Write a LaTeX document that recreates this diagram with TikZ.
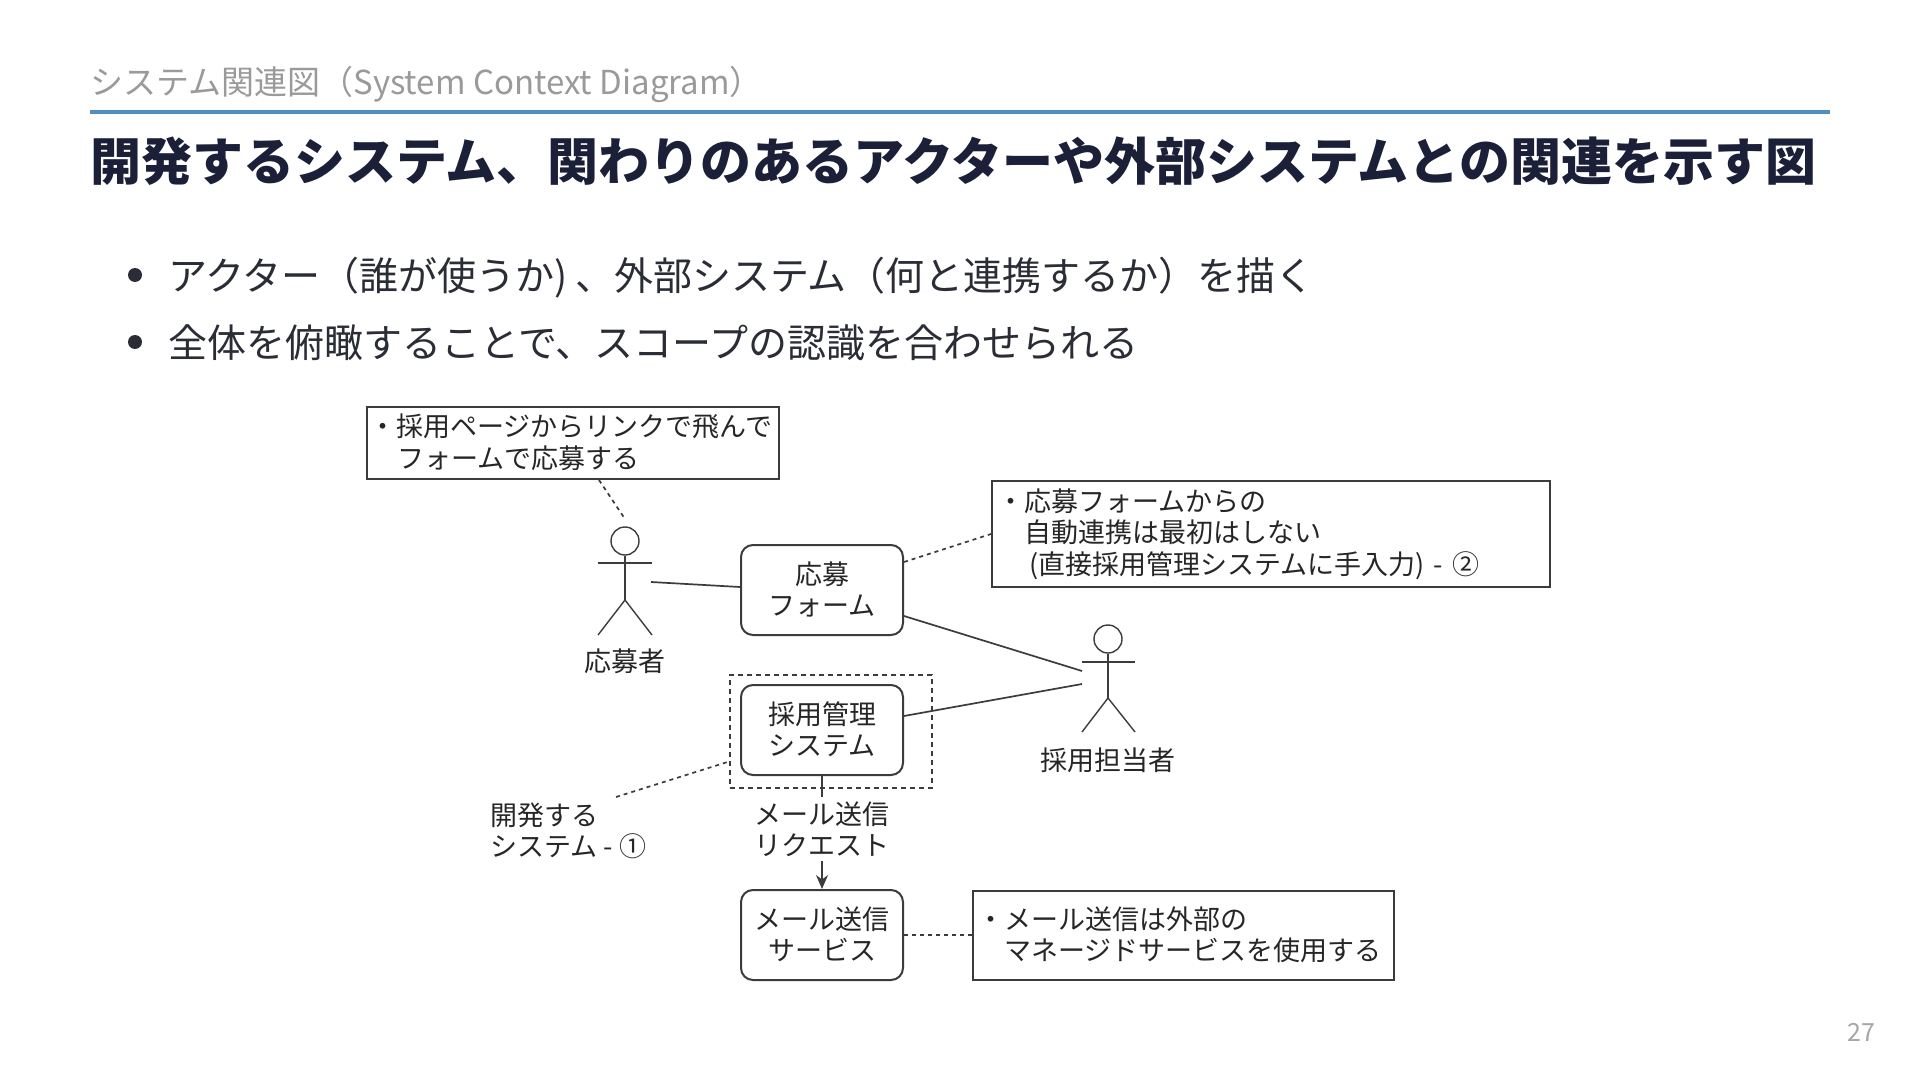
\documentclass[tikz,border=0pt]{standalone}
\usepackage{fontspec}
\setmainfont{Noto Sans CJK JP}
\usetikzlibrary{arrows.meta}
\newcommand{\fsz}[2]{\fontsize{#1}{#2}\selectfont}
\newcommand{\nudgeup}{\\[-14pt]\mbox{}}
\definecolor{subgray}{HTML}{9A9A9A}
\definecolor{rulecol}{HTML}{4F8FC6}
\definecolor{titlecol}{HTML}{1B2038}
\definecolor{bodycol}{HTML}{2A2D36}
\definecolor{diag}{HTML}{3C3C3C}
\definecolor{numgray}{HTML}{A6A6A6}
\tikzset{
  slidetext/.style={anchor=west,inner sep=0pt},
  subtitle/.style={slidetext,text=subgray,font=\fsz{16.5}{20}},
  headline/.style={slidetext,text=titlecol,font=\fsz{25.5}{30}\bfseries},
  bodyline/.style={slidetext,text=bodycol,font=\fsz{19.5}{24}},
  bulletdot/.style={circle,fill=bodycol,minimum size=7pt,inner sep=0pt},
  sysbox/.style={draw=diag,line width=1pt,rounded corners=6pt,minimum width=81pt,minimum height=45pt,inner sep=0pt,align=center,font=\fsz{13.5}{15.6},text=black!85},
  notebox/.style={draw=diag,line width=1pt,inner sep=0pt,font=\fsz{13.5}{15.8},text=black!85},
  plainlabel/.style={inner sep=0pt,align=center,font=\fsz{13.5}{15.8},text=black!85},
  assoc/.style={draw=diag,line width=0.85pt},
  notelink/.style={draw=diag,line width=0.85pt,dash pattern=on 2pt off 2pt},
  actorhead/.style={circle,draw=diag,line width=0.7pt,minimum size=14pt,inner sep=0pt},
  actorline/.style={draw=diag,line width=0.7pt},
}
\begin{document}
\begin{tikzpicture}[x=0.5pt,y=-0.5pt]
\useasboundingbox (0,0) rectangle (1920,1080);
\fill[white] (0,0) rectangle (1920,1080);

% header
\node[subtitle] (subt) at (90,85) {システム関連図（System Context Diagram）};
\coordinate (ruleL) at (90,112);
\coordinate (ruleR) at (1830,112);
\draw[rulecol,line width=1.6pt] (ruleL) -- (ruleR);
\node[headline] (headl) at (90,161) {開発するシステム、関わりのあるアクターや外部システムとの関連を示す図};
\node[bulletdot] (b1) at (135,275) {};
\node[bodyline] (l1) at (168,278) {アクター（誰が使うか)\hspace{3.5pt}、外部システム（何と連携するか）を描く};
\node[bulletdot] (b2) at (135,342) {};
\node[bodyline] (l2) at (168,343) {全体を俯瞰することで、スコープの認識を合わせられる};
\node[anchor=east,inner sep=0pt,text=numgray,font=\fsz{12.5}{15}] (pg) at (1876,1032) {27};

% system boxes
\node[sysbox] (form) at (822,590) {応募\\フォーム\nudgeup};
\node[sysbox] (sys) at (822,730) {採用管理\\システム\nudgeup};
\node[sysbox] (mail) at (822,935) {メール送信\\サービス\nudgeup};
\node[draw=diag,line width=0.85pt,dash pattern=on 2.5pt off 2pt,minimum width=101pt,minimum height=56.5pt,inner sep=0pt] (scope) at (831,731.5) {};

% notes
\node[notebox,minimum width=206pt,minimum height=36pt,text width=204pt] (note1) at (573,443)
  {・採用ページからリンクで飛んで\\\hspace*{1.05em}フォームで応募する\nudgeup};
\node[notebox,minimum width=279pt,minimum height=53pt,text width=274pt] (note2) at (1271,534)
  {・応募フォームからの\\\hspace*{1em}自動連携は最初はしない\\\hspace*{1.2em}(直接採用管理システムに手入力) - ②};
\node[notebox,minimum width=210.5pt,minimum height=44.5pt,text width=206pt] (note3) at (1183.5,935.5)
  {・メール送信は外部の\\\hspace*{1em}マネージドサービスを使用する\nudgeup};

% free labels
\node[plainlabel,anchor=north west,align=left] (devlabel) at (490,802) {開発する\\システム - ①};

% actor 1
\node[actorhead] (a1head) at (625,541) {};
\coordinate (a1armL) at (598,563);
\coordinate (a1armR) at (652,563);
\coordinate (a1hip) at (625,600);
\coordinate (a1legL) at (598,635);
\coordinate (a1legR) at (652,635);
\draw[actorline] (a1head.south) -- (a1hip);
\draw[actorline] (a1armL) -- (a1armR);
\draw[actorline] (a1legL) -- (a1hip) -- (a1legR);
\node[plainlabel] (a1label) at (625,661) {応募者};

% actor 2
\node[actorhead] (a2head) at (1108,639) {};
\coordinate (a2armL) at (1082,662);
\coordinate (a2armR) at (1135,662);
\coordinate (a2hip) at (1108,698);
\coordinate (a2legL) at (1082,732);
\coordinate (a2legR) at (1135,732);
\draw[actorline] (a2head.south) -- (a2hip);
\draw[actorline] (a2armL) -- (a2armR);
\draw[actorline] (a2legL) -- (a2hip) -- (a2legR);
\node[plainlabel] (a2label) at (1108,760) {採用担当者};

% connector ends at the actors
\coordinate (a1right) at (651,582);
\coordinate (a1top) at (625,519);
\coordinate (a2upper) at (1082,671);
\coordinate (a2lower) at (1082,684);
\coordinate (devend) at (616,797);

% connectors
\draw[assoc] (a1right) -- ([yshift=1.5pt]form.west);
\draw[assoc] ([yshift=-13pt]form.east) -- (a2upper);
\draw[assoc] ([yshift=7pt]sys.east) -- (a2lower);
\draw[notelink] ([xshift=13pt]note1.south) -- (a1top);
\draw[notelink] ([yshift=14pt]form.east) -- (note2.west);
\draw[notelink] (mail.east) -- (note3.west |- mail.east);
\draw[notelink] (devend) -- ([yshift=-15pt]scope.west);
\draw[assoc,-{Stealth[length=7pt,width=6pt]}] (sys.south) -- node[plainlabel,fill=white,pos=0.47,inner ysep=2pt] (maillabel) {メール送信\\リクエスト} (mail.north);
\end{tikzpicture}
\end{document}
